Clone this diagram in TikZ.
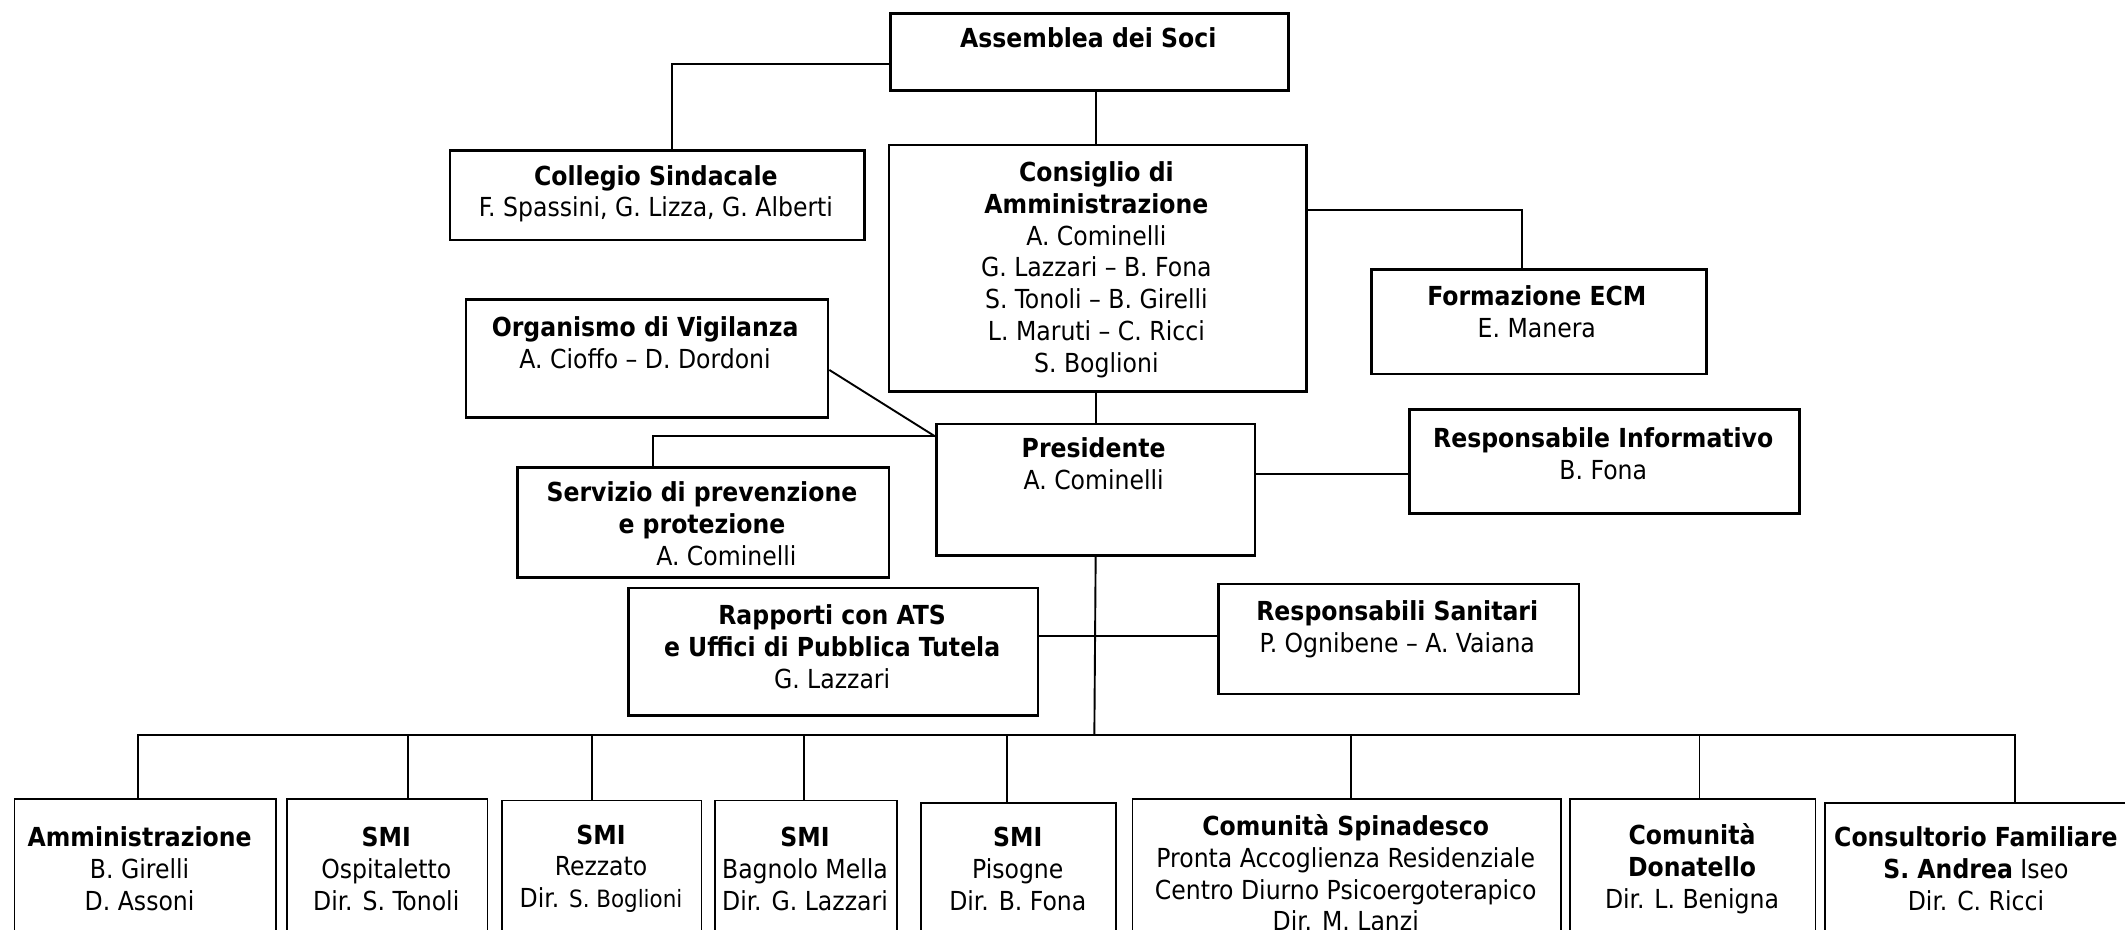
\documentclass[tikz,border=0pt]{standalone}
\usepackage{fontspec}
\setmainfont{DejaVu Sans Condensed}
\usetikzlibrary{positioning}

\begin{document}
\begin{tikzpicture}[x=0.2mm,y=-0.2mm,
    every node/.style={inner sep=0pt},
    box/.style={draw=black,line width=1.1pt,anchor=north west},
    unit/.style={box,line width=0.75pt},
    size/.style 2 args={minimum width=#1*0.2mm,minimum height=#2*0.2mm},
    txt/.style={align=center,font=\fontsize{11}{13.4}\selectfont},
    link/.style={draw,line width=0.8pt},
  ]
  \useasboundingbox (0,0) rectangle (1568,686);

  % upper boxes
  \node[box,size={294}{57}]  (assemblea)  at (656,9) {};
  \node[box,size={306}{66}]  (collegio)   at (331,110) {};
  \node[box,size={308}{182}] (consiglio)  at (655,106) {};
  \node[box,size={247}{77}]  (formazione) at (1011,198) {};
  \node[box,size={267}{87}]  (organismo)  at (343,220) {};
  \node[box,size={235}{97}]  (presidente) at (690,312) {};
  \node[box,size={288}{77}]  (respinf)    at (1039,301) {};
  \node[box,size={274}{81}]  (servizio)   at (381,344) {};
  \node[box,size={302}{94}]  (rapporti)   at (463,433) {};
  \node[box,size={266}{81}]  (sanitari)   at (898,430) {};

  \node[txt] (assemblea-t)  at (803,28)    {\textbf{Assemblea dei Soci}};
  \node[txt] (collegio-t)   at (484,143)   {\textbf{Collegio Sindacale}\\F. Spassini, G. Lizza, G. Alberti};
  \node[txt] (consiglio-t)  at (809,199) {\textbf{Consiglio di}\\\textbf{Amministrazione}\\A. Cominelli\\G. Lazzari – B. Fona\\S. Tonoli – B. Girelli\\L. Maruti – C. Ricci\\S. Boglioni};
  \node[txt] (formazione-t) at (1134,230) {\textbf{Formazione ECM}\\E. Manera};
  \node[txt] (organismo-t)  at (476,253)   {\textbf{Organismo di Vigilanza}\\A. Cioffo – D. Dordoni};
  \node[txt] (presidente-t) at (807,342)   {\textbf{Presidente}\\A. Cominelli};
  \node[txt] (respinf-t)    at (1183,334.5) {\textbf{Responsabile Informativo}\\B. Fona};
  \node[txt] (servizio-t)   at (518,386.5) {\textbf{Servizio di prevenzione}\\\textbf{e protezione}\\\hspace*{7.2mm}A. Cominelli};
  \node[txt] (rapporti-t)   at (614,477)   {\textbf{Rapporti con ATS}\\\textbf{e Uffici di Pubblica Tutela}\\G. Lazzari};
  \node[txt] (sanitari-t)   at (1031,464) {\textbf{Responsabili Sanitari}\\P. Ognibene – A. Vaiana};

  % bottom row
  \node[unit,size={193}{120}] (amm)  at (10,589) {};
  \node[unit,size={148}{120}] (osp)  at (211,589) {};
  \node[unit,size={147}{120}] (rez)  at (370,590) {};
  \node[unit,size={134}{120}] (bag)  at (527,590) {};
  \node[unit,size={144}{120}] (pis)  at (679,592) {};
  \node[unit,size={316}{120}] (spin) at (835,589) {};
  \node[unit,size={181}{120}] (don)  at (1158,589) {};
  \node[unit,size={240}{120}] (cons) at (1346,592) {};

  \node[txt] (amm-t)  at (103,641)  {\textbf{Amministrazione}\\B. Girelli\\D. Assoni};
  \node[txt] (osp-t)  at (285,641)  {\textbf{SMI}\\Ospitaletto\\Dir. S. Tonoli};
  \node[txt] (rez-t)  at (443.5,641) {\textbf{SMI}\\Rezzato\\Dir. {\fontsize{10}{13.4}\selectfont S. Boglioni}};
  \node[txt] (bag-t)  at (594,641)  {\textbf{SMI}\\Bagnolo Mella\\Dir. G. Lazzari};
  \node[txt] (pis-t)  at (751,641)  {\textbf{SMI}\\Pisogne\\Dir. B. Fona};
  \node[txt] (spin-t) at (993,644)  {\textbf{Comunità Spinadesco}\\Pronta Accoglienza Residenziale\\Centro Diurno Psicoergoterapico\\Dir. M. Lanzi};
  \node[txt] (don-t)  at (1248.5,641) {\textbf{Comunità}\\\textbf{Donatello}\\Dir. L. Benigna};
  \node[txt] (cons-t) at (1458,641) {\textbf{Consultorio Familiare}\\\textbf{S. Andrea} Iseo\\Dir. C. Ricci};

  % connectors
  \coordinate (bus) at (807.5,542);
  \path[link] ([yshift=-1.7mm]assemblea.west) -| ([xshift=2.2mm]collegio.north);
  \path[link] (assemblea.south -| presidente.north) -- (consiglio.north -| presidente.north);
  \path[link] ([yshift=8.6mm]consiglio.east) -| ([xshift=-2.5mm]formazione.north);
  \path[link] (consiglio.south -| presidente.north) -- (presidente.north);
  \path[link] ([yshift=-1.7mm]organismo.east) -- ([yshift=-2mm]presidente.north west);
  \path[link] ([yshift=-2mm]presidente.north west) -| ([xshift=20.2mm]servizio.north west);
  \path[link] ([yshift=2.3mm]presidente.east) -- ([yshift=2.3mm]presidente.east -| respinf.west);
  \path[link] ([yshift=2.4mm]rapporti.east) -- ([yshift=2.4mm]rapporti.east -| sanitari.west);
  \path[link] (presidente.south) -- (bus);
  \foreach \n/\x in {amm/102,osp/301,rez/437,bag/593,pis/743,spin/997,don/1254,cons/1487}
    \path[link] (bus) -| (\n.north -| \x,0);
\end{tikzpicture}
\end{document}
